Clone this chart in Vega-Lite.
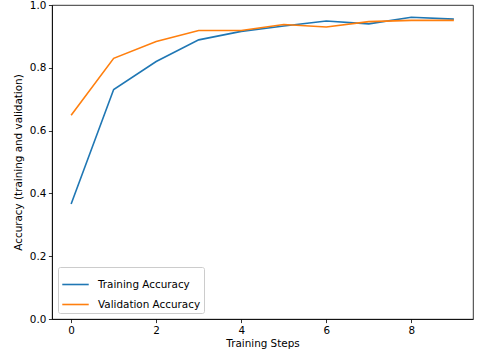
{
  "$schema": "https://vega.github.io/schema/vega-lite/v6.json",
  "autosize": {"type": "none"},
  "padding": {"left": 52, "top": 5, "right": 7, "bottom": 38},
  "width": 421,
  "height": 314,
  "background": "white",
  "config": {
    "font": "DejaVu Sans",
    "view": {"stroke": "#000000", "strokeWidth": 0.8},
    "axis": {
      "grid": false,
      "domainColor": "#000000",
      "domainWidth": 0.8,
      "tickColor": "#000000",
      "tickWidth": 0.8,
      "tickSize": 3.6,
      "labelPadding": 2.6,
      "labelFont": "DejaVu Sans",
      "labelFontSize": 10.4,
      "labelColor": "#000000",
      "titleFont": "DejaVu Sans",
      "titleFontSize": 10.4,
      "titleFontWeight": "normal",
      "titleColor": "#000000"
    }
  },
  "data": {
    "values": [
      {"step": 0, "series": "Training Accuracy", "acc": 0.366},
      {"step": 1, "series": "Training Accuracy", "acc": 0.731},
      {"step": 2, "series": "Training Accuracy", "acc": 0.820},
      {"step": 3, "series": "Training Accuracy", "acc": 0.889},
      {"step": 4, "series": "Training Accuracy", "acc": 0.916},
      {"step": 5, "series": "Training Accuracy", "acc": 0.933},
      {"step": 6, "series": "Training Accuracy", "acc": 0.949},
      {"step": 7, "series": "Training Accuracy", "acc": 0.940},
      {"step": 8, "series": "Training Accuracy", "acc": 0.961},
      {"step": 9, "series": "Training Accuracy", "acc": 0.955},
      {"step": 0, "series": "Validation Accuracy", "acc": 0.649},
      {"step": 1, "series": "Validation Accuracy", "acc": 0.830},
      {"step": 2, "series": "Validation Accuracy", "acc": 0.884},
      {"step": 3, "series": "Validation Accuracy", "acc": 0.919},
      {"step": 4, "series": "Validation Accuracy", "acc": 0.919},
      {"step": 5, "series": "Validation Accuracy", "acc": 0.938},
      {"step": 6, "series": "Validation Accuracy", "acc": 0.930},
      {"step": 7, "series": "Validation Accuracy", "acc": 0.947},
      {"step": 8, "series": "Validation Accuracy", "acc": 0.951},
      {"step": 9, "series": "Validation Accuracy", "acc": 0.951}
    ]
  },
  "mark": {"type": "line", "strokeWidth": 1.6},
  "encoding": {
    "x": {
      "field": "step",
      "type": "quantitative",
      "scale": {"domain": [-0.45, 9.45], "nice": false, "zero": false},
      "axis": {"values": [0, 2, 4, 6, 8], "format": "d", "title": "Training Steps", "titlePadding": 3}
    },
    "y": {
      "field": "acc",
      "type": "quantitative",
      "scale": {"domain": [0, 1], "nice": false},
      "axis": {"values": [0, 0.2, 0.4, 0.6, 0.8, 1.0], "format": ".1f", "title": "Accuracy (training and validation)", "titlePadding": 6}
    },
    "color": {
      "field": "series",
      "type": "nominal",
      "scale": {"domain": ["Training Accuracy", "Validation Accuracy"], "range": ["#1f77b4", "#ff7f0e"]},
      "legend": {
        "title": null,
        "orient": "bottom-left",
        "offset": 6,
        "symbolType": "stroke",
        "symbolSize": 700,
        "symbolStrokeWidth": 1.6,
        "labelFont": "DejaVu Sans",
        "labelFontSize": 10.4,
        "labelColor": "#000000",
        "labelOffset": 8,
        "rowPadding": -2,
        "padding": 3,
        "strokeColor": "#cccccc",
        "fillColor": "#ffffff",
        "cornerRadius": 2
      }
    }
  }
}
